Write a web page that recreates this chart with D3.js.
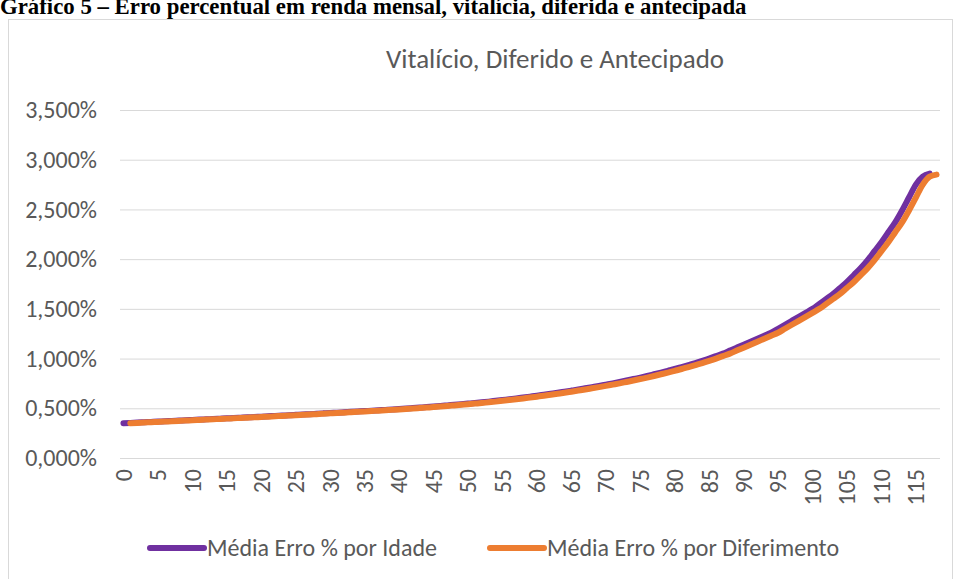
<!DOCTYPE html>
<meta charset="utf-8">
<head>
<style>
  body { margin: 0; background: #fff; }
  svg { display: block; }
</style>
</head>
<body>

<!-- load the d3.js library -->
<script src="https://d3js.org/d3.v7.min.js"></script>

<div id="chart"></div>

<script>

// idades 0..118 no eixo x (categorias)
var categories = d3.range(0, 119);
var tickLabels = d3.range(0, 116, 5);
var yTicks = [0, 0.5, 1, 1.5, 2, 2.5, 3, 3.5];

// Média Erro % por Idade (idade 0..117)
var idadeStart = 0;
var idadeValues = [
  0.350, 0.353, 0.357, 0.360, 0.363, 0.366, 0.370, 0.373, 0.376, 0.380,
  0.383, 0.386, 0.389, 0.393, 0.396, 0.399, 0.403, 0.406, 0.409, 0.413,
  0.416, 0.420, 0.423, 0.427, 0.430, 0.434, 0.438, 0.441, 0.445, 0.449,
  0.453, 0.456, 0.460, 0.464, 0.468, 0.472, 0.476, 0.480, 0.484, 0.488,
  0.493, 0.497, 0.502, 0.507, 0.512, 0.518, 0.523, 0.529, 0.535, 0.541,
  0.547, 0.553, 0.560, 0.567, 0.575, 0.583, 0.591, 0.599, 0.608, 0.617,
  0.626, 0.636, 0.646, 0.656, 0.667, 0.678, 0.689, 0.701, 0.713, 0.725,
  0.738, 0.751, 0.765, 0.779, 0.794, 0.809, 0.825, 0.842, 0.859, 0.877,
  0.895, 0.915, 0.935, 0.955, 0.977, 1.000, 1.025, 1.050, 1.080, 1.110,
  1.140, 1.170, 1.200, 1.230, 1.260, 1.300, 1.340, 1.380, 1.420, 1.460,
  1.500, 1.550, 1.600, 1.650, 1.710, 1.770, 1.840, 1.910, 1.990, 2.080,
  2.170, 2.270, 2.370, 2.490, 2.620, 2.750, 2.830, 2.860
];

// Média Erro % por Diferimento (1..118)
var diferStart = 1;
var diferValues = [
  0.350, 0.353, 0.357, 0.360, 0.363, 0.366, 0.370, 0.373, 0.376, 0.380,
  0.383, 0.386, 0.389, 0.393, 0.396, 0.399, 0.403, 0.406, 0.409, 0.413,
  0.416, 0.420, 0.423, 0.427, 0.430, 0.434, 0.438, 0.441, 0.445, 0.449,
  0.453, 0.456, 0.460, 0.464, 0.468, 0.472, 0.476, 0.480, 0.484, 0.488,
  0.493, 0.497, 0.502, 0.507, 0.512, 0.518, 0.523, 0.529, 0.535, 0.541,
  0.547, 0.553, 0.560, 0.567, 0.575, 0.583, 0.591, 0.599, 0.608, 0.617,
  0.626, 0.636, 0.646, 0.656, 0.667, 0.678, 0.689, 0.701, 0.713, 0.725,
  0.738, 0.751, 0.765, 0.779, 0.794, 0.809, 0.825, 0.842, 0.859, 0.877,
  0.895, 0.915, 0.935, 0.955, 0.977, 1.000, 1.025, 1.050, 1.080, 1.110,
  1.140, 1.170, 1.200, 1.230, 1.260, 1.300, 1.340, 1.380, 1.420, 1.460,
  1.500, 1.550, 1.600, 1.650, 1.710, 1.770, 1.840, 1.910, 1.990, 2.080,
  2.170, 2.270, 2.370, 2.490, 2.620, 2.750, 2.830, 2.850
];

var series = [
  { name: "Média Erro % por Idade", color: "#7030A0", start: idadeStart, values: idadeValues },
  { name: "Média Erro % por Diferimento", color: "#ED7D31", start: diferStart, values: diferValues }
];

var W = 955, H = 579;
var plot = { left: 120, right: 940, top: 110, bottom: 458 };
var font = "Calibri, Carlito, Lato, sans-serif";
var textColor = "#595959";

var svg = d3.select("#chart").append("svg")
  .attr("width", W)
  .attr("height", H);

// legenda do documento (cortada no topo)
svg.append("text")
  .attr("x", 0)
  .attr("y", 14)
  .attr("font-family", "'Liberation Serif', 'Times New Roman', serif")
  .attr("font-weight", "bold")
  .attr("font-size", 22.8)
  .attr("fill", "#000")
  .text("Gráfico 5 – Erro percentual em renda mensal, vitalícia, diferida e antecipada");

// moldura do gráfico
svg.append("rect")
  .attr("x", 8.5)
  .attr("y", 19.5)
  .attr("width", 944)
  .attr("height", 600)
  .attr("fill", "#fff")
  .attr("stroke", "#D9D9D9")
  .attr("stroke-width", 1);

// titulo
svg.append("text")
  .attr("x", 555)
  .attr("y", 68)
  .attr("text-anchor", "middle")
  .attr("font-family", font)
  .attr("font-size", 27)
  .attr("fill", textColor)
  .text("Vitalício, Diferido e Antecipado");

var x = d3.scaleBand()
  .domain(categories)
  .range([plot.left, plot.right]);

var y = d3.scaleLinear()
  .domain([0, 3.5])
  .range([plot.bottom, plot.top]);

var ptBR = d3.formatLocale({ decimal: ",", thousands: ".", grouping: [3], currency: ["R$", ""] });
var fmt = ptBR.format(".3f");

// grade e eixo y
var yAxis = svg.append("g")
  .attr("transform", "translate(" + plot.left + ",0)")
  .call(d3.axisLeft(y).tickValues(yTicks)
    .tickSize(-(plot.right - plot.left))
    .tickPadding(23)
    .tickFormat(function(d) { return fmt(d) + "%"; }));
yAxis.select(".domain").remove();
yAxis.selectAll("line").attr("stroke", "#D9D9D9").attr("stroke-width", 1);
yAxis.selectAll("text")
  .attr("font-family", font)
  .attr("font-size", 24)
  .attr("fill", textColor);

// eixo x
var xAxis = svg.append("g")
  .attr("transform", "translate(0," + plot.bottom + ")")
  .call(d3.axisBottom(x).tickValues(tickLabels).tickSize(0));
xAxis.select(".domain").remove();
xAxis.selectAll("text")
  .attr("font-family", font)
  .attr("font-size", 24)
  .attr("fill", textColor)
  .attr("text-anchor", "end")
  .attr("dy", "0.35em")
  .attr("transform", "translate(0,11) rotate(-90)")
  .attr("x", 0)
  .attr("y", 0);

// linhas
var line = d3.line()
  .x(function(d) { return x(d.age) + x.bandwidth() / 2; })
  .y(function(d) { return y(d.v); })
  .curve(d3.curveMonotoneX);

series.forEach(function(s) {
  var pts = s.values.map(function(v, i) { return { age: s.start + i, v: v }; });
  svg.append("path")
    .datum(pts)
    .attr("d", line)
    .attr("fill", "none")
    .attr("stroke", s.color)
    .attr("stroke-width", 6)
    .attr("stroke-linecap", "round")
    .attr("stroke-linejoin", "round");
});

// legenda
var legendX = [148, 488];
series.forEach(function(s, i) {
  var g = svg.append("g").attr("transform", "translate(" + legendX[i] + ",548)");
  g.append("line")
    .attr("x1", 2).attr("x2", 56)
    .attr("y1", 0).attr("y2", 0)
    .attr("stroke", s.color)
    .attr("stroke-width", 6)
    .attr("stroke-linecap", "round");
  g.append("text")
    .attr("x", 59)
    .attr("y", 0)
    .attr("dy", "0.35em")
    .attr("font-family", font)
    .attr("font-size", 24)
    .attr("fill", textColor)
    .text(s.name);
});

</script>
</body>
